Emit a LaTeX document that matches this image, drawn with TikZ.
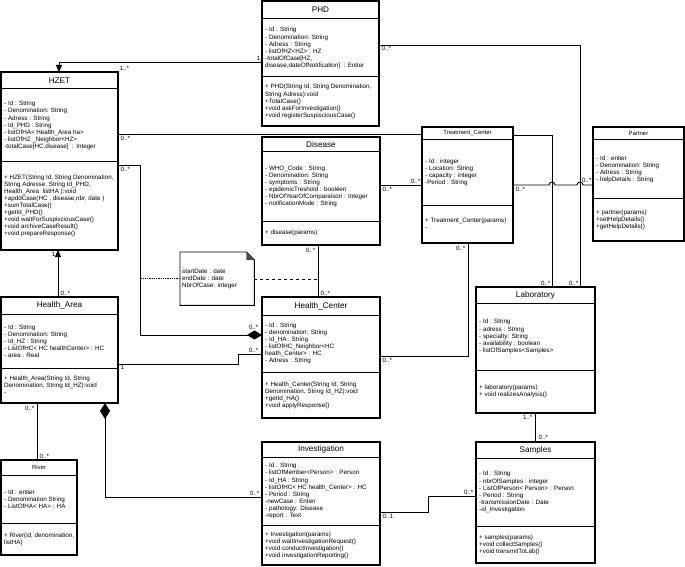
\documentclass[tikz,border=0pt]{standalone}
\usepackage{fontspec}
\setmainfont{Liberation Sans}
\usetikzlibrary{calc,arrows.meta}
\newcommand{\umlclass}[9]{%
 \node[clsbox, minimum width=#4bp, minimum height=#5bp] (#1) at (#2,#3) {};
 \coordinate (#1-h) at ($(#1.north west)+(0,#6)$);
 \coordinate (#1-d) at ($(#1.north west)+(0,#7)$);
 \draw[clsline] (#1-h) -- (#1-h -| #1.east);
 \draw[clsline] (#1-d) -- (#1-d -| #1.east);
 \node[ttl] (#1-t) at ($(#1.north)!0.5!(#1-h -| #1.north)$) {#8};
 \node[txt] (#1-a) at ($(#1-h)!0.5!(#1-d)+(3,0)$) {#9};
}
\newcommand{\umlmeth}[2]{\node[txt] (#1-m) at ($(#1-d)!0.5!(#1.south west)+(3,0)$) {#2};}
\begin{document}
\begin{tikzpicture}[x=1bp,y=-1bp,
 clsbox/.style={draw=black, line width=1.1bp, inner sep=0pt, outer sep=0pt, anchor=north west, fill=white},
 clsline/.style={line width=1bp},
 ttl/.style={font=\fontsize{8.2}{9}\selectfont, inner sep=0pt},
 txt/.style={font=\fontsize{6.3}{7.1}\selectfont, align=left, anchor=west, inner sep=0pt},
 assoc/.style={draw=black, line width=0.9bp},
 tri/.style={-{Triangle[length=7bp,width=6bp]}},
 dia/.style={-{Diamond[length=15bp,width=9bp]}},
 mult/.style={font=\fontsize{6.2}{7}\selectfont, inner sep=0.5pt}]
\useasboundingbox (0,0) rectangle (685,567);

% ---------- classes ----------
\umlclass{phd}{262}{1}{117}{125}{18}{76}{PHD}{- Id : String\\- Denomination: String\\- Adress : String\\- listOfHZ<HZ> : HZ\\-totalOfCase[HZ,\\disease,dateOfNotification] \ : Entier}
\umlmeth{phd}{+ PHD(String Id, String Denomination,\\String Adress):void\\+TotalCase()\\+void askForInvestigation()\\+void registerSuspisciousCase()}

\umlclass{hzet}{1}{72}{117}{178}{17}{90}{HZET}{- Id : String\\- Denomination: String\\- Adress : String\\- Id\_PHD : String\\- listOfHA< Health\_Area ha>\\- listOfHZ \_Neighbor<HZ>\\-totalCase[HC,disease] \ : Integer}
\umlmeth{hzet}{+ HZET(String Id, String Denomination,\\String Adresse, String Id\_PHD,\\Health\_Area \ listHA ):void\\+apddCase(HC , disease,nbr, date )\\+sumTotalCase()\\+getId\_PHD()\\+void waitForSuspisciousCase()\\+void archiveCaseResult()\\+void prepareResponse()}

\umlclass{disease}{262}{137}{118}{108}{15}{84}{Disease}{- WHO\_Code : String\\- Denomination: String\\- symptoms : String\\- epidemicTreshold : booléen\\- NbrOfYearOfComparaison : Integer\\- notificationMode : String}
\umlmeth{disease}{+ disease(params)}

\umlclass{tc}{422}{127}{91}{116}{13}{78}{\fontsize{6}{7}\selectfont Treatment\_Center}{- Id : integer\\- Location: String\\- capacity : integer\\-Period : String}
\umlmeth{tc}{+ Treatment\_Center(params)\\-}

\umlclass{partner}{593}{127}{91}{114}{13}{71}{\fontsize{6}{7}\selectfont Partner}{- Id : entier\\- Denomination: String\\- Adress : String\\- helpDetails : String}
\umlmeth{partner}{+ partner(params)\\+setHelpDetails()\\+getHelpDetails()}

\umlclass{ha}{1}{297}{117}{106}{17}{71}{Health\_Area}{- Id : String\\- Denomination: String\\- Id\_HZ : String\\- ListOfHC< HC healthCenter> : HC\\- area : Real}
\umlmeth{ha}{+ Health\_Area(String Id, String\\Denomination, String Id\_HZ):void\\-}

\umlclass{hc}{262}{297}{118}{121}{18}{75}{Health\_Center}{- Id : String\\- denomination: String\\- Id\_HA : String\\- listOfHC\_Neighbor<HC\\heath\_Center> : HC\\- Adress : String}
\umlmeth{hc}{+ Health\_Center(String Id, String\\Denomination, String Id\_HZ):void\\+getId\_HA()\\+void applyResponse()}

\umlclass{lab}{476}{287}{119}{126}{16}{83}{Laboratory}{- Id : String\\- adress : String\\- specialty: String\\- availability : boolean\\- listOfSamples<Samples>}
\umlmeth{lab}{+ laboratory(params)\\+ void realizesAnalysis()}

\umlclass{inv}{262}{442}{118}{123}{15}{83}{Investigation}{- Id : String\\- listOfMember<Person> : Person\\- Id\_HA : String\\- listOfHC< HC health\_Center> : HC\\- Period : String\\-newCase : Entier\\- pathology: Disease\\-report : Text}
\umlmeth{inv}{+ Investigation(params)\\+void waitInvestigationRequest()\\+void conductInvestigation()\\+void investigationReporting()}

\umlclass{samples}{476}{442}{119}{121}{16}{84}{Samples}{- Id : String\\- nbrOfSamples : integer\\- ListOfPerson< Person> : Person\\- Period : String\\-transmissionDate : Date\\-id\_Investigation}
\umlmeth{samples}{+ samples(params)\\+void collectSamples()\\+void transmitToLab()}

\umlclass{river}{1}{460}{76}{95}{15}{63}{\fontsize{6}{7}\selectfont River}{- Id : entier\\- Denomination String\\- ListOfHA< HA> : HA}
\umlmeth{river}{+ River(id, denomination,\\listHA)}

% ---------- note ----------
\node[minimum width=74bp, minimum height=53bp, anchor=north west, inner sep=0pt] (note) at (180,252) {};
\draw[line width=0.9bp] (note.north west) -- ($(note.north east)+(-8,0)$) -- ($(note.north east)+(0,8)$) -- (note.south east) -- (note.south west) -- cycle;
\fill[black!70] ($(note.north east)+(-8,0)$) -- ($(note.north east)+(-8,8)$) -- ($(note.north east)+(0,8)$) -- cycle;
\node[txt] (note-t) at ($(note.west)+(2,0)$) {startDate : date\\endDate : date\\NbrOfCase: integer};

% ---------- connectors ----------
\draw[assoc, tri] ($(phd.north west)+(0,61)$) -| ($(hzet.north west)+(58,0)$);
\draw[assoc] ($(phd.north east)+(0,44)$) -| ($(lab.north west)+(104,0)$);
\draw[assoc] ($(hzet.north east)+(0,62)$) -- ($(tc.north west)+(0,7)$);
\draw[assoc] ($(tc.north east)+(0,8)$) -| ($(lab.north west)+(76,0)$);
\coordinate (hop1) at ($(lab.north west)+(73,-102)$);
\coordinate (hop2) at ($(lab.north west)+(101,-102)$);
\draw[assoc] ($(tc.north east)+(0,58)$) -- (hop1) arc[start angle=180,end angle=360,radius=3] -- (hop2) arc[start angle=180,end angle=360,radius=3] -- ($(partner.north west)+(0,58)$);
\draw[assoc] ($(disease.north east)+(0,48)$) -- ($(tc.north west)+(0,58)$);
\draw[assoc] ($(disease.south west)+(56,0)$) -- ($(hc.north west)+(56,0)$);
\draw[assoc] ($(hc.north east)+(0,59)$) -| ($(tc.south west)+(46,0)$);
\coordinate (bend1) at ($(hzet.north east)+(22,93)$);
\draw[assoc, dia] ($(hzet.north east)+(0,93)$) -- (bend1) |- ($(hc.north west)+(0,38)$);
\coordinate (bend2) at ($(ha.north east)+(120,67)$);
\draw[assoc] ($(ha.north east)+(0,67)$) -- (bend2) |- ($(hc.north west)+(0,57)$);
\draw[assoc, tri] ($(ha.north west)+(57,0)$) -- ($(hzet.south west)+(57,0)$);
\draw[assoc] ($(ha.south west)+(36,0)$) -- ($(river.north west)+(36,0)$);
\draw[assoc, {Diamond[length=16bp,width=10bp]}-] ($(ha.south west)+(104,0)$) |- ($(inv.north west)+(0,55)$);
\coordinate (bend3) at ($(inv.north east)+(48,70)$);
\draw[assoc] ($(inv.north east)+(0,70)$) -- (bend3) |- ($(samples.north west)+(0,54)$);
\draw[assoc] ($(lab.south west)+(59,0)$) -- ($(samples.north west)+(59,0)$);
\coordinate (j1) at ($(note.west)+(-40,0)$);
\coordinate (j2) at ($(disease.south west)+(56,34)$);
\draw[line width=0.8bp, densely dotted] (note.west) -- (j1);
\draw[line width=0.8bp, dashed] (note.east |- j2) -- (j2);

% ---------- multiplicities ----------
\node[mult, anchor=south east] (m1) at (261,61) {1};
\node[mult, anchor=west] (m2) at (119,68) {1..*};
\node[mult, anchor=north west] (m3) at (381,45) {0..*};
\node[mult, anchor=north west] (m4) at (120,135) {0..*};
\node[mult, anchor=north west] (m5) at (120,166) {0..*};
\node[mult, anchor=north east] (m6) at (56,252) {1};
\node[mult, anchor=south west] (m7) at (60,296) {0..*};
\node[mult, anchor=north west] (m8) at (382,186) {0..*};
\node[mult, anchor=south east] (m9) at (421,184) {0..*};
\node[mult, anchor=north east] (m10) at (316,247) {0..*};
\node[mult, anchor=south west] (m11) at (320,296) {0..*};
\node[mult, anchor=north east] (m12) at (466,245) {0..*};
\node[mult, anchor=north west] (m13) at (382,357) {0..*};
\node[mult, anchor=north west] (m14) at (515,186) {0..*};
\node[mult, anchor=south east] (m15) at (592,183) {0..*};
\node[mult, anchor=south east] (m16) at (551,286) {0..*};
\node[mult, anchor=south east] (m17) at (579,286) {0..*};
\node[mult, anchor=south east] (m18) at (259,330) {0..*};
\node[mult, anchor=south east] (m19) at (259,353) {0..*};
\node[mult, anchor=north west] (m20) at (120,365) {1};
\node[mult, anchor=north east] (m21) at (35,405) {0..*};
\node[mult, anchor=south west] (m22) at (39,459) {0..*};
\node[mult, anchor=south east] (m23) at (260,496) {0..*};
\node[mult, anchor=north west] (m24) at (382,513) {0..1};
\node[mult, anchor=south east] (m25) at (474,495) {0..*};
\node[mult, anchor=north east] (m26) at (533,415) {1..*};
\node[mult, anchor=south west] (m27) at (538,440) {0..*};
\end{tikzpicture}
\end{document}
